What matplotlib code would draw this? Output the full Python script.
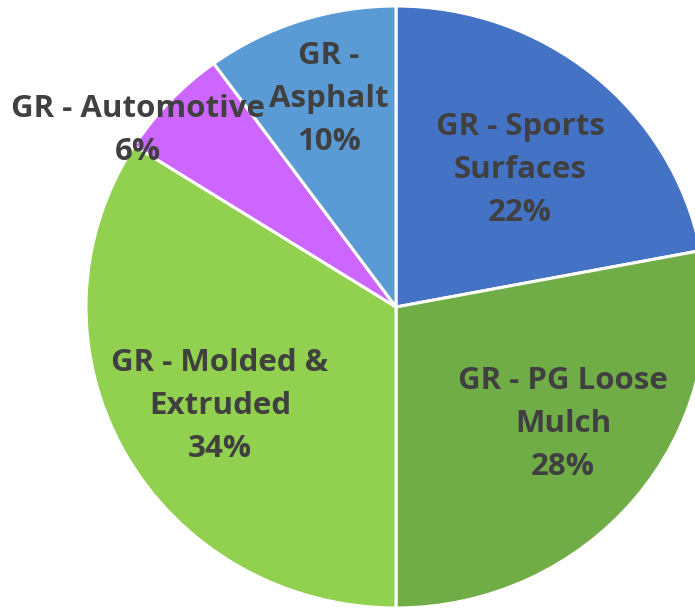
import numpy as np
import matplotlib.pyplot as plt

# Ground rubber end-use shares (clockwise from 12 o'clock)
categories = ['GR - Sports\nSurfaces', 'GR - PG Loose\nMulch', 'GR - Molded &\nExtruded',
              'GR - Automotive', 'GR -\nAsphalt']
shares = [22, 28, 34, 6, 10]
colors = ['#4472C4', '#70AD47', '#92D050', '#CC66FF', '#5B9BD5']

# label centres in pie units (x, y)
label_xy = [(0.40, 0.455), (0.539, -0.389), (-0.568, -0.329), (-0.832, 0.585), (-0.216, 0.691)]

fig = plt.figure(figsize=(6.95, 6.08), dpi=100)
# pie is a bit wider than tall in the original, and runs off the right edge
ax = fig.add_axes([86 / 695, 0.0, 620 / 695, 602 / 608])

wedges, _ = ax.pie(shares, colors=colors, startangle=90, counterclock=False,
                   radius=1.0, wedgeprops=dict(edgecolor='white', linewidth=2.2))
ax.set_aspect('auto')
ax.set_xlim(-1, 1)
ax.set_ylim(-1, 1)
ax.axis('off')

for name, val, (x, y) in zip(categories, shares, label_xy):
    ax.text(x, y, f'{name}\n{val}%', ha='center', va='center', color='#404040',
            fontsize=22.5, fontweight='bold', family='Open Sans', linespacing=1.56)

fig.savefig('out.png', dpi=100)
